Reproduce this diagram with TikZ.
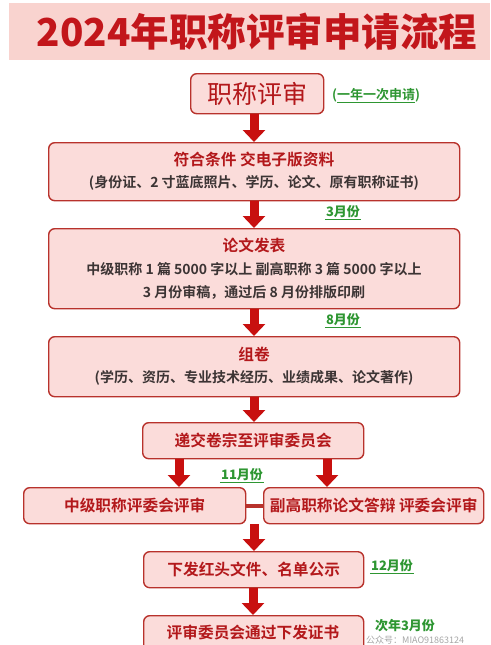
\documentclass[tikz,border=0pt]{standalone}
\usepackage{fontspec}
\setmainfont{Noto Sans CJK SC}[BoldFont={Noto Sans CJK SC Bold}]
\newfontfamily\cjk{Noto Sans CJK SC}[BoldFont={Noto Sans CJK SC Bold}]
\newfontfamily\cjkblack{Noto Sans CJK SC Black}
\usetikzlibrary{arrows.meta}
\definecolor{bandpink}{HTML}{F9D3CF}
\definecolor{titlered}{HTML}{C2161B}
\definecolor{boxfill}{HTML}{FBDCDA}
\definecolor{boxline}{HTML}{B8322C}
\definecolor{arrred}{HTML}{C8100F}
\definecolor{txtred}{HTML}{B3181B}
\definecolor{txtgray}{HTML}{3C3434}
\definecolor{hgreen}{HTML}{2E9632}
\tikzset{
  box/.style={draw=boxline, line width=1.4pt, fill=boxfill, rounded corners=6pt, inner sep=0pt, anchor=north west},
  ttl/.style={text=txtred, font=\cjk\bfseries\fontsize{15.7}{18}\selectfont, inner sep=0pt},
  sub/.style={text=txtgray, font=\cjk\bfseries\fontsize{14}{16}\selectfont, inner sep=0pt},
  flow/.style={draw=arrred, line width=9pt, -{Triangle[width=22pt,length=12pt]}},
  month/.style={text=hgreen, font=\cjk\bfseries\itshape\fontsize{13}{15}\selectfont, inner sep=1pt},
  uline/.style={draw=hgreen, line width=1pt}
}
\begin{document}
\begin{tikzpicture}[x=1pt,y=-1pt]
\useasboundingbox (0,0) rectangle (490,645);
% title band
\fill[bandpink] (9,3) rectangle (490,60);
\node[text=titlered, font=\cjkblack\fontsize{38.5}{40}\selectfont, inner sep=0pt] (title) at (257,32) {2024年职称评审申请流程};
% start box
\node[box, minimum width=133pt, minimum height=40pt] (start) at (190,73) {};
\node[text=txtred, font=\cjk\fontsize{25}{28}\selectfont, inner sep=0pt] (startt) at (start.center) {职称评审};
\node[text=hgreen, font=\cjk\bfseries\fontsize{13}{15}\selectfont, inner sep=0pt, anchor=west] (once) at (332,96) {(\underline{一年一次申请})};
% box 1
\node[box, minimum width=411pt, minimum height=58pt] (b1) at (48,142) {};
\node[ttl] (b1a) at (254,160) {符合条件 交电子版资料};
\node[sub] (b1b) at (254,183) {(身份证、2 寸蓝底照片、学历、论文、原有职称证书)};
% box 2
\node[box, minimum width=411pt, minimum height=80pt] (b2) at (48,228) {};
\node[ttl] (b2a) at (254,245) {论文发表};
\node[sub] (b2b) at (254,269) {中级职称 1 篇 5000 字以上 副高职称 3 篇 5000 字以上};
\node[sub] (b2c) at (254,292) {3 月份审稿，通过后 8 月份排版印刷};
% box 3
\node[box, minimum width=411pt, minimum height=60pt] (b3) at (48,336) {};
\node[ttl] (b3a) at (254,354) {组卷};
\node[sub] (b3b) at (254,378) {(学历、资历、专业技术经历、业绩成果、论文著作)};
% box 4
\node[box, minimum width=221pt, minimum height=36pt] (b4) at (142,422) {};
\node[ttl] (b4a) at (b4.center) {递交卷宗至评审委员会};
% split boxes
\node[box, minimum width=222pt, minimum height=36pt] (bl) at (23,487) {};
\node[ttl] (bla) at (bl.center) {中级职称评委会评审};
\node[box, minimum width=220pt, minimum height=36pt] (br) at (263,487) {};
\node[ttl] (bra) at (br.center) {副高职称论文答辩 评委会评审};
% box 5
\node[box, minimum width=220pt, minimum height=36pt] (b5) at (143,551) {};
\node[ttl] (b5a) at (b5.center) {下发红头文件、名单公示};
% box 6
\node[box, minimum width=220pt, minimum height=40pt] (b6) at (143,615) {};
\node[ttl] (b6a) at (253,633) {评审委员会通过下发证书};
% months
\node[month] (m3) at (343,212) {3月份};
\draw[uline] (m3.south west) -- (m3.south east);
\node[month] (m8) at (343,320) {8月份};
\draw[uline] (m8.south west) -- (m8.south east);
\node[month] (m11) at (242,475) {11月份};
\draw[uline] (m11.south west) -- (m11.south east);
\node[month] (m12) at (392,566) {12月份};
\draw[uline] (m12.south west) -- (m12.south east);
\node[month] (m13) at (405,626) {次年3月份};
% arrows
\draw[flow] (start.south -| 254,0) -- (b1.north -| 254,0);
\draw[flow] (b1.south -| 254,0) -- (b2.north -| 254,0);
\draw[flow] (b2.south -| 254,0) -- (b3.north -| 254,0);
\draw[flow] (b3.south -| 254,0) -- (b4.north -| 254,0);
\draw[flow] (b4.south -| 179,0) -- (bl.north -| 179,0);
\draw[flow] (b4.south -| 327,0) -- (br.north -| 327,0);
\draw[draw=boxline, line width=4pt] (bl.east) -- (br.west);
\draw[flow] (bl.south -| 254,0) -- (b5.north -| 254,0);
\draw[flow] (b5.south -| 253,0) -- (b6.north -| 253,0);
% watermark
\node[text=black!35, font=\cjk\fontsize{9}{11}\selectfont, inner sep=0pt, anchor=west] (wm) at (366,640.5) {公众号：MIAO91863124};
\end{tikzpicture}
\end{document}
